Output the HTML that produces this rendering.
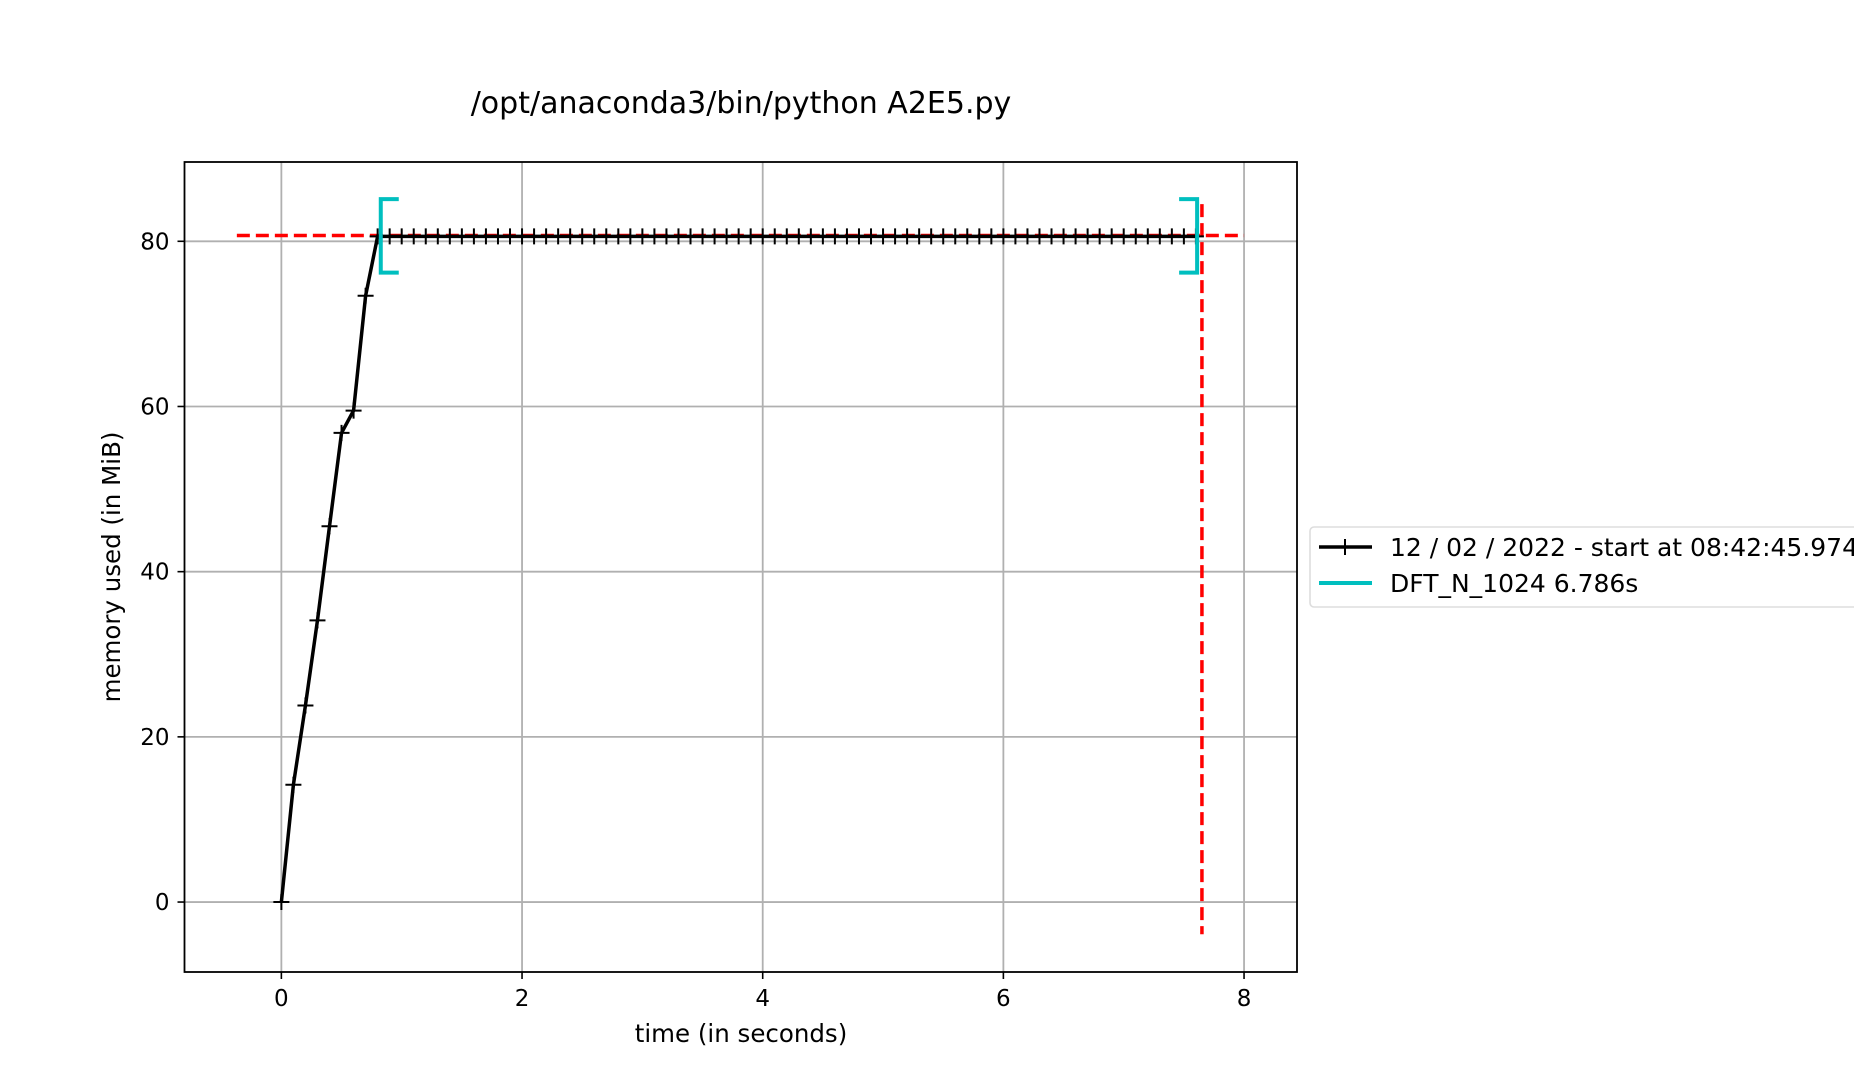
<!DOCTYPE html>
<html><head><meta charset="utf-8"><style>
html,body{margin:0;padding:0;background:#fff;}
svg{display:block;font-family:"DejaVu Sans","Liberation Sans",sans-serif;}
</style></head><body>
<svg id="chart" width="1854" height="1080" viewBox="0 0 1854 1080" xmlns="http://www.w3.org/2000/svg">
<rect width="1854" height="1080" fill="#fff"/>
<text x="741" y="113" font-size="30" text-anchor="middle" fill="#000">/opt/anaconda3/bin/python A2E5.py</text>
<g id="grid"></g>
<g id="marks"></g>
<rect x="184.5" y="162" width="1112.5" height="810" fill="none" stroke="#000" stroke-width="1.8"/>
<g id="ticks"></g>
<text x="741" y="1042" font-size="24.5" text-anchor="middle">time (in seconds)</text>
<text transform="translate(120,567) rotate(-90)" font-size="24.5" text-anchor="middle">memory used (in MiB)</text>
<g>
<rect x="1310" y="527" width="560" height="80" rx="4" fill="#fff" stroke="#ddd" stroke-width="1.6"/>
<g>
<line x1="1319" y1="547" x2="1372" y2="547" stroke="#000" stroke-width="3.5"/>
<line x1="1345" y1="539" x2="1345" y2="555" stroke="#000" stroke-width="2"/>
<text x="1390" y="556" font-size="25">12 / 02 / 2022 - start at 08:42:45.974</text>
</g>
<g>
<line x1="1319" y1="583" x2="1372" y2="583" stroke="#00bfbf" stroke-width="4"/>
<text x="1390" y="592" font-size="25">DFT_N_1024 6.786s</text>
</g>
</g>
</svg>
<script>
const times=[0,0.1,0.2,0.3,0.4,0.5,0.6,0.7,0.8];
const mems=[0,14.2,23.8,34.1,45.5,56.8,59.5,73.4,80.6];
const plateauStart=0.9, plateauEnd=7.6, plateauStep=0.1, plateauValue=80.6;
const xTicks=[0,2,4,6,8];
const yTicks=[0,20,40,60,80];
const maxMem=[80.7]; const maxMemRange=[-0.37,8.0];
const endTime=[7.65]; const endRange=[-3.9,84.5];
const funcStart=[0.826], funcEnd=[7.61], funcLow=[76.2], funcHigh=[85.1];

const X0=184.5,X1=1297,Y0=972,Y1=162;
const xmin=-0.805,xmax=8.44,ymin=-8.47,ymax=89.6;
const sx=v=>X0+(v-xmin)/(xmax-xmin)*(X1-X0);
const sy=v=>Y0-(v-ymin)/(ymax-ymin)*(Y0-Y1);
const NS="http://www.w3.org/2000/svg";
function mk(tag,attrs,parent){const e=document.createElementNS(NS,tag);for(const k in attrs)e.setAttribute(k,attrs[k]);parent.appendChild(e);return e;}
const grid=document.getElementById('grid'),marks=document.getElementById('marks'),ticks=document.getElementById('ticks');

xTicks.forEach(t=>{
  const g=mk('line',{x1:sx(t),x2:sx(t),y1:Y1,y2:Y0,stroke:'#b0b0b0','stroke-width':1.8},grid);
  
  
  const tk=mk('line',{x1:sx(t),x2:sx(t),y1:Y0,y2:Y0+7,stroke:'#000','stroke-width':1.6},ticks);
  
  
  const tx=mk('text',{x:sx(t),y:Y0+34,'font-size':23,'text-anchor':'middle'},ticks);
  tx.textContent=t;
  
  
});
yTicks.forEach(t=>{
  const g=mk('line',{x1:X0,x2:X1,y1:sy(t),y2:sy(t),stroke:'#b0b0b0','stroke-width':1.8},grid);
  
  
  const tk=mk('line',{x1:X0-7,x2:X0,y1:sy(t),y2:sy(t),stroke:'#000','stroke-width':1.6},ticks);
  
  
  const tx=mk('text',{x:X0-15,y:sy(t)+8,'font-size':23,'text-anchor':'end'},ticks);
  tx.textContent=t;
  
  
});

const T=times.slice(),M=mems.slice();
for(let i=0;plateauStart+i*plateauStep<=plateauEnd+1e-9;i++){T.push(+(plateauStart+i*plateauStep).toFixed(2));M.push(plateauValue);}

const hl=mk('line',{x1:sx(maxMemRange[0]),x2:sx(maxMemRange[1]),y1:sy(maxMem[0]),y2:sy(maxMem[0]),stroke:'#ff0000','stroke-width':3.5,'stroke-dasharray':'13,6'},marks);


const vl=mk('line',{x1:sx(endTime[0]),x2:sx(endTime[0]),y1:sy(endRange[1]),y2:sy(endRange[0]),stroke:'#ff0000','stroke-width':3.5,'stroke-dasharray':'13,6'},marks);



const line=mk('polyline',{points:T.map((t,i)=>sx(t)+','+sy(M[i])).join(' '),fill:'none',stroke:'#000','stroke-width':3.5},marks);


T.forEach((t,i)=>{
  const p=mk('path',{d:`M${sx(t)-8},${sy(M[i])}h16M${sx(t)},${sy(M[i])-8}v16`,stroke:'#000','stroke-width':2},marks);
  
  
});

const bl=mk('path',{d:`M${sx(funcStart[0])+18},${sy(funcHigh[0])}H${sx(funcStart[0])}V${sy(funcLow[0])}H${sx(funcStart[0])+18}`,fill:'none',stroke:'#00bfbf','stroke-width':4},marks);


const br=mk('path',{d:`M${sx(funcEnd[0])-18},${sy(funcHigh[0])}H${sx(funcEnd[0])}V${sy(funcLow[0])}H${sx(funcEnd[0])-18}`,fill:'none',stroke:'#00bfbf','stroke-width':4},marks);


</script>
</body></html>
